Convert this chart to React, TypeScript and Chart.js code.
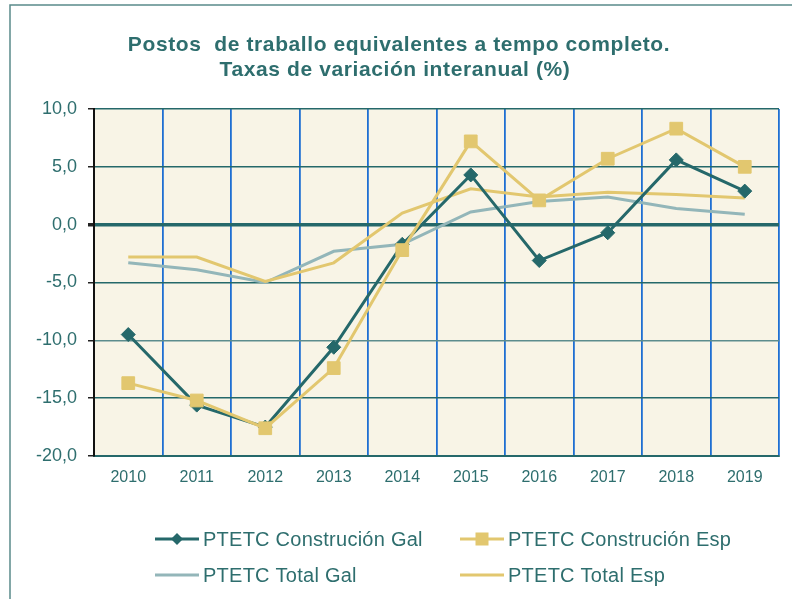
import React, { useEffect, useRef } from "react";
import { Chart, registerables } from "chart.js";

Chart.register(...registerables);

const years = ["2010", "2011", "2012", "2013", "2014", "2015", "2016", "2017", "2018", "2019"];
const construcionGal = [-9.5, -15.6, -17.5, -10.6, -1.7, 4.3, -3.1, -0.7, 5.6, 2.9];
const construcionEsp = [-13.7, -15.2, -17.6, -12.4, -2.2, 7.2, 2.1, 5.7, 8.3, 5.0];
const totalGal = [-3.3, -3.9, -5.0, -2.3, -1.7, 1.1, 2.0, 2.4, 1.4, 0.9];
const totalEsp = [-2.8, -2.8, -4.9, -3.3, 1.0, 3.1, 2.4, 2.8, 2.6, 2.3];
const seriesNames = ["PTETC Construción Gal", "PTETC Construción Esp", "PTETC Total Gal", "PTETC Total Esp"];
const titleLines = ["Postos  de traballo equivalentes a tempo completo.", "Taxas de variación interanual (%)"];

const TEAL = "#25686a";
const GOLD = "#e2c76f";
const LIGHT = "#93b6b9";
const TEXT = "#2e6e6e";
const FONT = "'Liberation Sans', Arial, sans-serif";

const decor = {
  id: "decor",
  beforeDraw(chart: any) {
    const { ctx, chartArea, width, height } = chart;
    ctx.save();
    ctx.fillStyle = "#ffffff";
    ctx.fillRect(0, 0, width, height);
    ctx.strokeStyle = "#5a8a8a";
    ctx.lineWidth = 1.5;
    ctx.strokeRect(10, 5, width + 20, height + 20);
    ctx.fillStyle = "#f8f4e6";
    ctx.fillRect(chartArea.left, chartArea.top, chartArea.right - chartArea.left, chartArea.bottom - chartArea.top);
    ctx.restore();
  },
  afterDraw(chart: any) {
    const { ctx } = chart;
    ctx.save();
    ctx.fillStyle = TEXT;
    ctx.textAlign = "center";
    ctx.textBaseline = "alphabetic";
    ctx.font = `bold 21px ${FONT}`;
    (ctx as any).letterSpacing = "0.6px";
    ctx.fillText(titleLines[0], 399, 51);
    ctx.fillText(titleLines[1], 395, 76);
    (ctx as any).letterSpacing = "0.25px";

    const items = [
      { x: 155, y: 539, color: TEAL, pt: "diamond" },
      { x: 460, y: 539, color: GOLD, pt: "square" },
      { x: 155, y: 575, color: LIGHT, pt: "none" },
      { x: 460, y: 575, color: GOLD, pt: "none" },
    ];
    items.forEach((it, i) => {
      ctx.strokeStyle = it.color;
      ctx.lineWidth = 3;
      ctx.beginPath();
      ctx.moveTo(it.x, it.y);
      ctx.lineTo(it.x + 44, it.y);
      ctx.stroke();
      const cx = it.x + 22;
      ctx.fillStyle = it.color;
      if (it.pt === "diamond") {
        ctx.beginPath();
        ctx.moveTo(cx, it.y - 6);
        ctx.lineTo(cx + 6, it.y);
        ctx.lineTo(cx, it.y + 6);
        ctx.lineTo(cx - 6, it.y);
        ctx.closePath();
        ctx.fill();
      } else if (it.pt === "square") {
        ctx.fillRect(cx - 6.5, it.y - 6.5, 13, 13);
      }
      ctx.fillStyle = TEXT;
      ctx.textAlign = "left";
      ctx.font = `20px ${FONT}`;
      ctx.fillText(seriesNames[i], it.x + 48, it.y + 7);
    });
    ctx.restore();
  },
};

export default function App() {
  const ref = useRef<HTMLCanvasElement>(null);
  useEffect(() => {
    document.body.style.margin = "0";
    const chart = new Chart(ref.current!, {
      type: "line",
      data: {
        labels: years,
        datasets: [
          {
            label: seriesNames[0],
            data: construcionGal,
            borderColor: TEAL,
            backgroundColor: TEAL,
            borderWidth: 3,
            pointStyle: "rectRot",
            pointRadius: 7,
            pointBorderWidth: 1,
            order: 1,
          },
          {
            label: seriesNames[1],
            data: construcionEsp,
            borderColor: GOLD,
            backgroundColor: GOLD,
            borderWidth: 3,
            pointStyle: "rect",
            pointRadius: 9,
            pointBorderWidth: 1,
            order: 0,
          },
          {
            label: seriesNames[2],
            data: totalGal,
            borderColor: LIGHT,
            backgroundColor: LIGHT,
            borderWidth: 3,
            pointRadius: 0,
            order: 3,
          },
          {
            label: seriesNames[3],
            data: totalEsp,
            borderColor: GOLD,
            backgroundColor: GOLD,
            borderWidth: 3,
            pointRadius: 0,
            order: 2,
          },
        ],
      },
      options: {
        responsive: false,
        animation: false,
        layout: { padding: { left: 0, right: 13, top: 109, bottom: 113 } },
        plugins: { legend: { display: false }, title: { display: false }, tooltip: { enabled: false } },
        scales: {
          x: {
            type: "category",
            offset: true,
            grid: {
              offset: true,
              drawTicks: false,
              lineWidth: 1.8,
              color: (c: any) => (c.index === 0 ? "rgba(0,0,0,0)" : c.index === years.length ? TEAL : "#1f6fd2"),
            },
            border: { color: TEAL, width: 2 },
            ticks: { color: TEXT, font: { family: FONT, size: 16 }, padding: 12 },
            afterFit: (s: any) => {
              s.height = 30;
            },
          },
          y: {
            min: -20,
            max: 10,
            ticks: {
              stepSize: 5,
              color: TEXT,
              font: { family: FONT, size: 18 },
              padding: 11,
              callback: (v: any) => Number(v).toFixed(1).replace(".", ","),
            },
            grid: {
              color: (c: any) => (c.tick && c.tick.value === -10 ? "#5c8c8d" : TEAL),
              lineWidth: (c: any) => (c.tick && c.tick.value === 0 ? 3.5 : 1.5),
              tickLength: 6,
              tickColor: "#222",
            },
            border: { color: "#111", width: 2 },
            afterFit: (s: any) => {
              s.width = 94;
            },
          },
        },
      },
      plugins: [decor],
    });
    return () => chart.destroy();
  }, []);
  return <canvas ref={ref} width={792} height={599} style={{ display: "block" }} />;
}
